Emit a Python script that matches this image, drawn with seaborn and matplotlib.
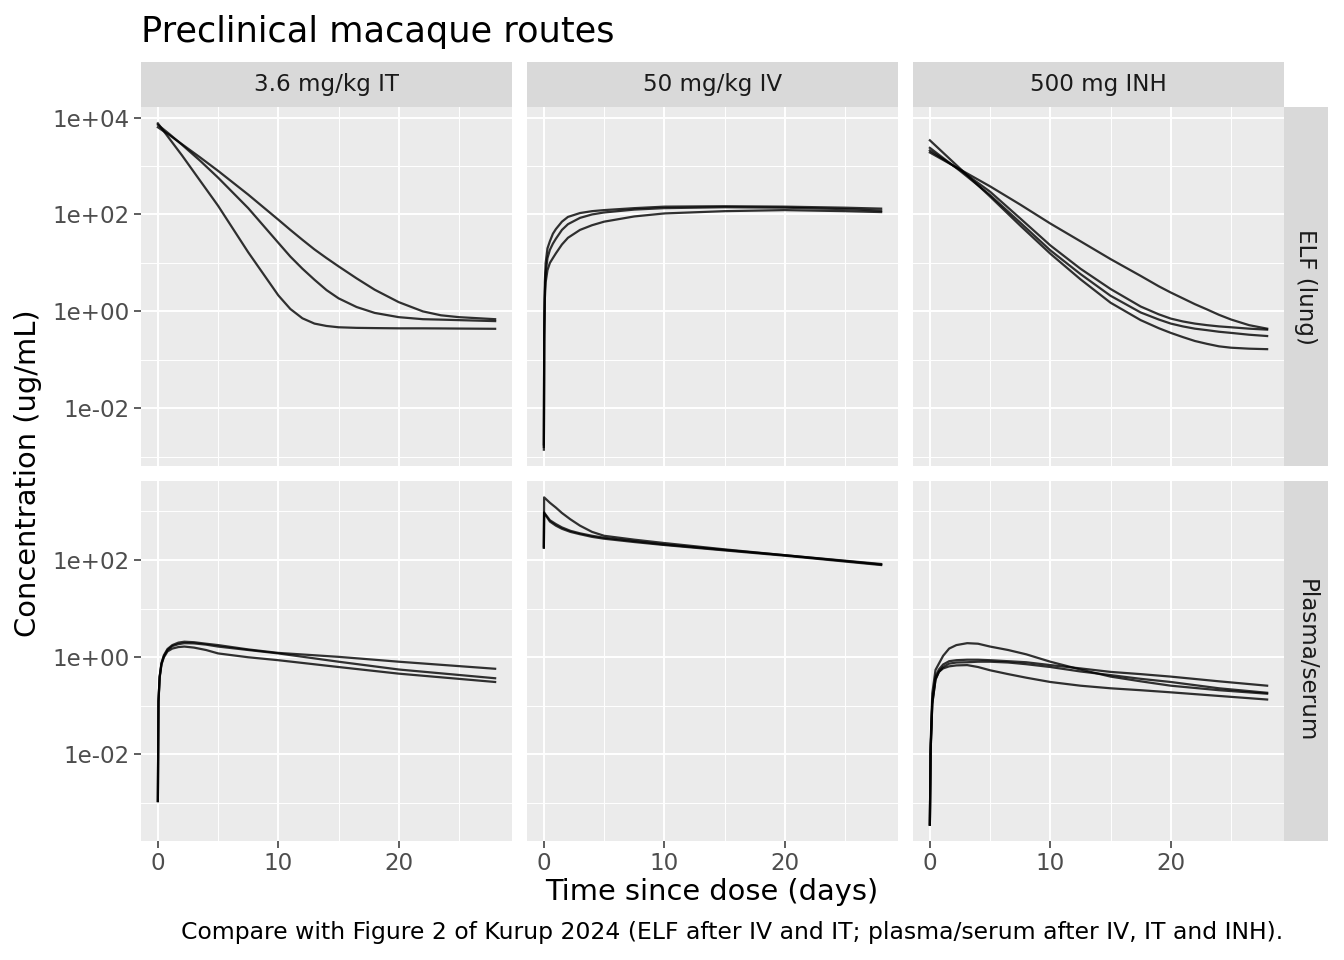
import numpy as np
import pandas as pd
import matplotlib
matplotlib.use("Agg")
import matplotlib.pyplot as plt
import seaborn as sns
from matplotlib.ticker import FixedLocator, FuncFormatter

# facet labels
ROUTES = ["3.6 mg/kg IT", "50 mg/kg IV", "500 mg INH"]
MATRICES = ["ELF (lung)", "Plasma/serum"]

# ---- ELF (lung) (ug/mL) ----
IT_ELF_TIME = [0, 1, 2, 3.5, 5, 7.5, 10, 11, 12, 13, 14, 15, 16.5, 18, 20, 22, 23.5, 25, 28]
IT_ELF_A = [7600, 3550, 1660, 500, 151, 16.6, 2.14, 1.12, 0.72, 0.56, 0.50, 0.47, 0.457, 0.452, 0.447, 0.447, 0.445, 0.442, 0.437]
IT_ELF_B = [7100, 4470, 2750, 1290, 575, 135, 26, 13.5, 7.6, 4.5, 2.75, 1.86, 1.23, 0.93, 0.76, 0.69, 0.676, 0.66, 0.63]
IT_ELF_C = [6300, 4270, 2820, 1510, 794, 257, 78, 48, 30, 19, 12.6, 8.5, 4.8, 2.8, 1.55, 1.0, 0.83, 0.76, 0.69]

IV_ELF_TIME = [0, 0.03, 0.08, 0.15, 0.3, 0.5, 0.75, 1, 1.5, 2, 3, 4, 5, 7.5, 10, 15, 20, 25, 28]
IV_ELF_A = [0.0014, 0.5, 4.0, 10, 20, 28, 40, 50, 71, 89, 107, 117, 123, 135, 145, 148, 145, 138, 132]
IV_ELF_B = [0.0016, 0.32, 2.5, 6.3, 12.6, 18.6, 25, 31.6, 48, 63, 85, 100, 110, 126, 135, 141, 138, 129, 120]
IV_ELF_C = [0.0018, 0.25, 1.8, 4.0, 7.1, 10, 12.6, 15.8, 24, 33, 48, 60, 71, 91, 105, 117, 123, 117, 112]

INH_ELF_TIME = [0, 2.5, 5, 7.5, 10, 12.5, 15, 17.5, 19, 20, 21, 22, 23, 24, 25, 26.5, 28]
INH_ELF_A = [1900, 850, 380, 160, 65, 28, 12, 5.4, 3.3, 2.45, 1.86, 1.41, 1.1, 0.85, 0.68, 0.52, 0.44]
INH_ELF_B = [2090, 830, 295, 83, 23, 7.6, 2.9, 1.26, 0.87, 0.71, 0.62, 0.56, 0.52, 0.49, 0.47, 0.44, 0.42]
INH_ELF_C = [2370, 795, 251, 68, 18.2, 5.9, 2.1, 0.95, 0.68, 0.56, 0.49, 0.44, 0.41, 0.38, 0.36, 0.33, 0.31]
INH_ELF_D = [3390, 890, 234, 59, 15.5, 4.6, 1.51, 0.66, 0.45, 0.36, 0.295, 0.245, 0.214, 0.19, 0.178, 0.17, 0.166]

# ---- Plasma/serum ----
IT_PL_TIME = [0, 0.05, 0.15, 0.3, 0.5, 0.8, 1.2, 1.7, 2.2, 3, 4, 5, 7.5, 10, 15, 20, 28]
IT_PL_A = [0.0011, 0.126, 0.40, 0.76, 1.1, 1.48, 1.78, 2.0, 2.09, 2.04, 1.9, 1.78, 1.45, 1.23, 1.02, 0.81, 0.58]
IT_PL_B = [0.0011, 0.126, 0.40, 0.74, 1.05, 1.41, 1.7, 1.86, 1.95, 1.93, 1.82, 1.66, 1.41, 1.2, 0.81, 0.56, 0.37]
IT_PL_C = [0.0011, 0.12, 0.38, 0.71, 1.0, 1.32, 1.51, 1.62, 1.66, 1.58, 1.41, 1.2, 1.0, 0.87, 0.63, 0.46, 0.31]

IV_PL_TIME = [0, 0.02, 0.5, 1, 1.5, 2.2, 3, 4, 5, 7.5, 10, 15, 20, 28]
IV_PL_A = [190, 1950, 1510, 1200, 930, 690, 510, 380, 316, 263, 224, 166, 126, 83]
IV_PL_B = [180, 950, 660, 550, 470, 400, 355, 316, 288, 245, 209, 162, 126, 81]
IV_PL_C = [180, 930, 620, 510, 440, 380, 340, 300, 275, 235, 204, 158, 123, 79]

INH_PL_TIME = [0, 0.06, 0.2, 0.47, 0.75, 1.1, 1.6, 2.2, 3.1, 4, 5, 6.5, 8, 10, 12.5, 15, 17.5, 20, 24, 28]
INH_PL_A = [0.00036, 0.016, 0.18, 0.55, 0.74, 1.07, 1.51, 1.78, 1.95, 1.9, 1.66, 1.41, 1.15, 0.81, 0.56, 0.40, 0.32, 0.26, 0.21, 0.178]
INH_PL_B = [0.00036, 0.011, 0.11, 0.35, 0.50, 0.59, 0.65, 0.68, 0.69, 0.63, 0.54, 0.45, 0.38, 0.31, 0.26, 0.23, 0.21, 0.19, 0.16, 0.135]
INH_PL_C = [0.00036, 0.0126, 0.126, 0.40, 0.56, 0.71, 0.83, 0.87, 0.89, 0.89, 0.87, 0.83, 0.79, 0.69, 0.59, 0.50, 0.45, 0.40, 0.32, 0.26]
INH_PL_D = [0.00036, 0.011, 0.11, 0.35, 0.50, 0.63, 0.74, 0.78, 0.79, 0.81, 0.81, 0.78, 0.72, 0.63, 0.51, 0.43, 0.36, 0.31, 0.23, 0.186]

panels = {
    (ROUTES[0], MATRICES[0]): (IT_ELF_TIME, [IT_ELF_A, IT_ELF_B, IT_ELF_C]),
    (ROUTES[1], MATRICES[0]): (IV_ELF_TIME, [IV_ELF_A, IV_ELF_B, IV_ELF_C]),
    (ROUTES[2], MATRICES[0]): (INH_ELF_TIME, [INH_ELF_A, INH_ELF_B, INH_ELF_C, INH_ELF_D]),
    (ROUTES[0], MATRICES[1]): (IT_PL_TIME, [IT_PL_A, IT_PL_B, IT_PL_C]),
    (ROUTES[1], MATRICES[1]): (IV_PL_TIME, [IV_PL_A, IV_PL_B, IV_PL_C]),
    (ROUTES[2], MATRICES[1]): (INH_PL_TIME, [INH_PL_A, INH_PL_B, INH_PL_C, INH_PL_D]),
}

rows = []
for (route, matrix), (times, curves) in panels.items():
    for i, c in enumerate(curves):
        for t, v in zip(times, c):
            rows.append({"route": route, "matrix": matrix, "id": i, "time": t, "conc": v})
df = pd.DataFrame(rows)

############ figure
W, H = 1344, 960
fig = plt.figure(figsize=(W / 100, H / 100), dpi=100)
plt.rcParams["font.family"] = ["DejaVu Sans"]


def rect(x0, y0, x1, y1):
    return [x0 / W, 1 - y1 / H, (x1 - x0) / W, (y1 - y0) / H]


COL_X = [(141, 512), (527, 898), (913, 1284)]
ROW_Y = [(107, 466), (481, 841)]
PANEL_BG = "#EBEBEB"
STRIP_BG = "#D9D9D9"
TICK_FS = 16.6

xmin, xmax = df["time"].min(), df["time"].max()
xpad = (xmax - xmin) * 0.05

for r, matrix in enumerate(MATRICES):
    lg = np.log10(df.loc[df["matrix"] == matrix, "conc"])
    pad = (lg.max() - lg.min()) * 0.05
    ylo, yhi = 10 ** (lg.min() - pad), 10 ** (lg.max() + pad)
    for c, route in enumerate(ROUTES):
        x0, x1 = COL_X[c]
        y0, y1 = ROW_Y[r]
        ax = fig.add_axes(rect(x0, y0, x1, y1))
        ax.set_facecolor(PANEL_BG)
        sub = df[(df["route"] == route) & (df["matrix"] == matrix)]
        sns.lineplot(data=sub, x="time", y="conc", units="id", estimator=None,
                     color="black", alpha=0.8, linewidth=1.6, ax=ax)
        ax.set_yscale("log")
        ax.set_ylim(ylo, yhi)
        ax.set_xlim(xmin - xpad, xmax + xpad)
        ax.xaxis.set_major_locator(FixedLocator([0, 10, 20]))
        ax.xaxis.set_minor_locator(FixedLocator([5, 15, 25]))
        ax.yaxis.set_major_locator(FixedLocator([1e-2, 1, 1e2, 1e4]))
        ax.yaxis.set_minor_locator(FixedLocator([1e-3, 1e-1, 1e1, 1e3]))
        ax.yaxis.set_major_formatter(FuncFormatter(lambda v, p: f"{v:.0e}"))
        ax.yaxis.set_minor_formatter(FuncFormatter(lambda v, p: ""))
        ax.grid(which="major", color="white", linewidth=1.4)
        ax.grid(which="minor", color="white", linewidth=0.7)
        ax.set_axisbelow(True)
        for s in ax.spines.values():
            s.set_visible(False)
        ax.set_xlabel("")
        ax.set_ylabel("")
        ax.tick_params(which="major", length=5.2, width=1.1, color="#333333",
                       labelsize=TICK_FS, labelcolor="#4D4D4D", pad=3)
        ax.tick_params(which="minor", length=0)
        ax.tick_params(axis="y", left=(c == 0), labelleft=(c == 0))
        ax.tick_params(axis="x", bottom=(r == 1), labelbottom=(r == 1))

        # column strips
        if r == 0:
            sax = fig.add_axes(rect(x0, 62, x1, 107))
            sax.set_facecolor(STRIP_BG)
            sax.set_xticks([])
            sax.set_yticks([])
            for s in sax.spines.values():
                s.set_visible(False)
            sax.text(0.5, 0.5, route, ha="center", va="center", fontsize=TICK_FS,
                     color="#1A1A1A", transform=sax.transAxes)
    # row strip
    rax = fig.add_axes(rect(1284, ROW_Y[r][0], 1328, ROW_Y[r][1]))
    rax.set_facecolor(STRIP_BG)
    rax.set_xticks([])
    rax.set_yticks([])
    for s in rax.spines.values():
        s.set_visible(False)
    rax.text(0.5, 0.5, matrix, ha="center", va="center", rotation=-90,
             fontsize=TICK_FS, color="#1A1A1A", transform=rax.transAxes)

fig.text(141 / W, 1 - 42 / H, "Preclinical macaque routes", fontsize=25.3,
         ha="left", va="baseline")
fig.text(712 / W, 1 - 892 / H, "Time since dose (days)", fontsize=20.8,
         ha="center", va="center")
fig.text(28 / W, 1 - 473 / H, "Concentration (ug/mL)", fontsize=20.8,
         ha="center", va="center", rotation=90)
fig.text(1283 / W, 1 - 932 / H,
         "Compare with Figure 2 of Kurup 2024 (ELF after IV and IT; plasma/serum after IV, IT and INH).",
         fontsize=16.9, ha="right", va="center")

fig.savefig("out.png", dpi=100)
